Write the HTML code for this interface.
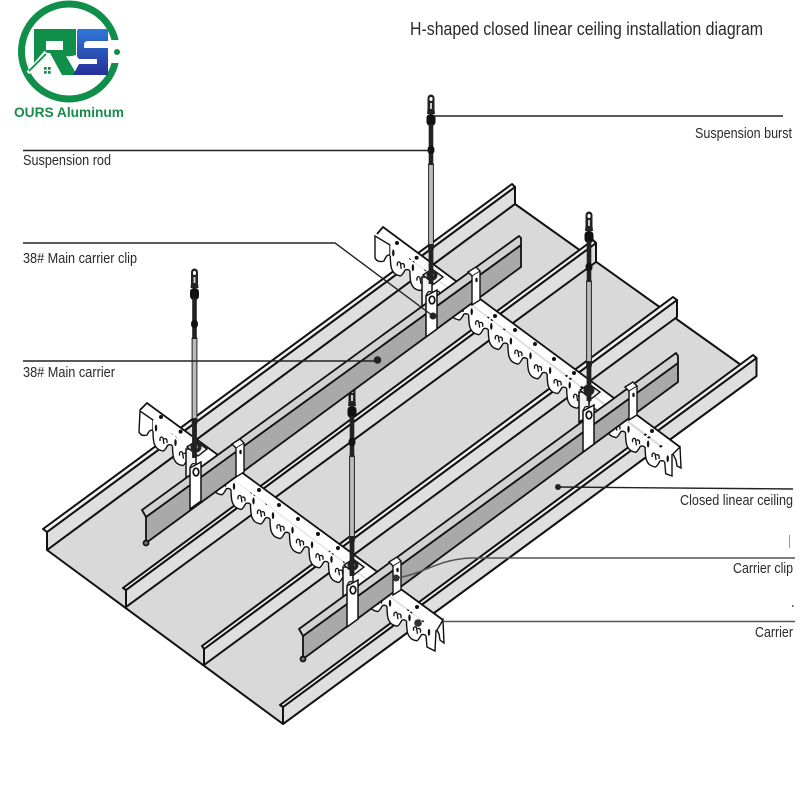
<!DOCTYPE html>
<html><head><meta charset="utf-8"><title>H-shaped closed linear ceiling installation diagram</title>
<style>html,body{margin:0;padding:0;background:#fff}svg{display:block}text{font-family:"Liberation Sans",sans-serif;fill:#2a2a2a}</style></head>
<body>
<svg width="800" height="800" viewBox="0 0 800 800" xmlns="http://www.w3.org/2000/svg">
<defs>
<linearGradient id="bl" x1="0" y1="0" x2="0" y2="1"><stop offset="0" stop-color="#2f78d6"/><stop offset="1" stop-color="#27309a"/></linearGradient>
<g id="hook">
  <path d="M-3,-8V3C-3,10-2,15-2,15C0,21 3,22 7,23C9,23 11,18 12,17C14,16 15,17 16.6,17.7V6.7Z" fill="#fff"/>
  <path d="M-3,3C-3,10-2,15-2,15C0,21 3,22 7,23C9,23 11,18 12,17C14,16 15,17 16.6,17.7" fill="none" stroke="#111" stroke-width="1.4"/>
  <path d="M4,10q2,-2 3,0l1,6m0,-5q2,-1 3,1l0,3M4,10l0,3" fill="none" stroke="#111" stroke-width="1.3"/>
  <ellipse cx="0" cy="0" rx="1.200" ry="3.500" fill="#111"/>
</g>
<circle id="d" r="2" fill="#111"/>
<g id="rod">
  <rect x="-2.4" y="70" width="4.8" height="85" fill="#bbb" stroke="#222" stroke-width="1"/>
  <path d="M-3.500,4a3.500,3.500 0 0 1 7,0V15L4,20H-4L-3.500,15Z" fill="#222"/>
  <rect x="-1.500" y="3" width="3" height="4" rx="1.500" fill="#fff"/>
  <rect x="-1" y="9" width="2" height="6" fill="#ccc"/>
  <rect x="-4.500" y="20" width="9" height="12" rx="4" fill="#111"/>
  <rect x="-2.300" y="30" width="4.6" height="41" fill="#222"/>
  <rect x="-3.400" y="52" width="6.8" height="8" rx="3" fill="#111"/>
  <path d="M-2.400,150H2.400V190H-2.400Z" fill="#222"/>
</g>
<g id="base">
  <path d="M-9,2V32L1,26V2Z" fill="#f1f1f1" stroke="#111" stroke-width="1.500"/>
  <path d="M-8,0L1,-6L12,2L3,9Z" fill="#eee" stroke="#111" stroke-width="1.400"/>
  <circle cx="1" cy="0" r="5.500" fill="#222"/><circle cx="1" cy="0" r="2" fill="#999"/>
</g>
<g id="front">
  <path d="M-5,21L6,15V54L-5,62Z" fill="#fff" stroke="#111" stroke-width="1.500"/>
  <path d="M-5,21Q-3,15 0,17" fill="none" stroke="#111" stroke-width="1.200"/>
  <ellipse cx="1" cy="25" rx="2.800" ry="3.800" fill="#fff" stroke="#111" stroke-width="1.700"/>
  <path d="M37,-3L45,-8L49,-4V25L41,30V1Z" fill="#fff" stroke="#111" stroke-width="1.400"/>
  <path d="M41,1L49,-4" stroke="#111" stroke-width="1" fill="none"/>
  <path d="M37,-3L41,1" stroke="#111" stroke-width="1" fill="none"/>
  <ellipse cx="45.500" cy="5" rx="1.200" ry="2.200" fill="#111"/>
</g>
</defs>

<rect width="800" height="800" fill="#fff"/>

<!-- logo -->
<circle cx="69" cy="51.500" r="47.500" fill="none" stroke="#0f8f4a" stroke-width="7"/>
<rect x="108" y="40" width="16" height="23" fill="#fff"/>
<circle cx="117" cy="52" r="3" fill="#0f8f4a"/>
<path fill-rule="evenodd" fill="#0f8f4a" d="M34,29H76V55Q70,57 66,56L77,75H62L50,53H46L34,65ZM46,41V50H63V41Z"/>
<path fill="url(#bl)" d="M78,29H108V41H88Q84,41 84,45V48H108V75H73L79,64H97V59H80Q78,59 77,56V31Z"/>
<path d="M28,73L46,52" fill="none" stroke="#fff" stroke-width="4"/>
<path d="M29,71L46,54" fill="none" stroke="#0f8f4a" stroke-width="1.800"/>
<path d="M44,67h2.700v2.700h-2.700zM48,67h2.700v2.700h-2.700zM44,71h2.700v2.700h-2.700zM48,71h2.700v2.700h-2.700z" fill="#0f8f4a"/>
<text x="14" y="117" font-size="14" font-weight="bold" textLength="110" lengthAdjust="spacingAndGlyphs" style="fill:#1a8a4a">OURS Aluminum</text>

<!-- title and labels -->
<text x="410" y="35" font-size="18.500" textLength="353" lengthAdjust="spacingAndGlyphs">H-shaped closed linear ceiling installation diagram</text>
<text x="695" y="138" font-size="15" textLength="97" lengthAdjust="spacingAndGlyphs">Suspension burst</text>
<text x="23" y="165" font-size="15" textLength="88" lengthAdjust="spacingAndGlyphs">Suspension rod</text>
<text x="23" y="263" font-size="15" textLength="114" lengthAdjust="spacingAndGlyphs">38# Main carrier clip</text>
<text x="23" y="377" font-size="15" textLength="92" lengthAdjust="spacingAndGlyphs">38# Main carrier</text>
<text x="680" y="505" font-size="15" textLength="113" lengthAdjust="spacingAndGlyphs">Closed linear ceiling</text>
<text x="733" y="573" font-size="15" textLength="60" lengthAdjust="spacingAndGlyphs">Carrier clip</text>
<text x="755" y="637" font-size="15" textLength="38" lengthAdjust="spacingAndGlyphs">Carrier</text>
<path d="M789.500,535V548" stroke="#999" stroke-width="1"/><rect x="792" y="605" width="1.500" height="2" fill="#666"/>

<!-- ceiling panel -->
<path d="M47,550L283,724L756.500,376L515,204Z" fill="#d9d9d9" stroke="#111" stroke-width="2" stroke-linejoin="round"/>

<!-- ridges -->
<g stroke="#111" stroke-width="2" stroke-linejoin="round">
<path d="M47,532V550L515,204V187Z" fill="#dfdfdf"/><path d="M43,529L47,532L515,187L512,184Z" fill="#f2f2f2"/>
<path d="M126,590V607L596,262V243Z" fill="#dfdfdf"/><path d="M123,588L126,590L596,243L593,240Z" fill="#f2f2f2"/>
<path d="M204,649V665L677,317V300Z" fill="#dfdfdf"/><path d="M202,646L204,649L677,300L673,297Z" fill="#f2f2f2"/>
<path d="M283,707V724L756.500,376V358Z" fill="#dfdfdf"/><path d="M280,705L283,707L756.500,358L753,355Z" fill="#f2f2f2"/>
</g>

<!-- cross channel 1 -->
<g>
<path d="M377,234L383,227L680,447L672,453Z" fill="#fff"/>
<path d="M375,236V258C377,262 381,262 384,261C386,256 388,254 390,255.600V245Z" fill="#fff" stroke="#111" stroke-width="1.400"/>
<use href="#hook" x="393.300" y="252.900"/><use href="#hook" x="412.900" y="267.600"/><use href="#hook" x="432.500" y="282.300"/><use href="#hook" x="452.100" y="297"/><use href="#hook" x="471.700" y="311.700"/><use href="#hook" x="491.300" y="326.400"/><use href="#hook" x="510.900" y="341.100"/><use href="#hook" x="530.500" y="355.800"/><use href="#hook" x="550.100" y="370.500"/><use href="#hook" x="569.700" y="385.200"/><use href="#hook" x="589.300" y="399.900"/><use href="#hook" x="608.900" y="414.600"/><use href="#hook" x="628.500" y="429.300"/><use href="#hook" x="648.100" y="444"/>
<path d="M664.700,461.700L665.700,473.700L672,476V454L664,450Z" fill="#fff"/>
<path d="M664.700,461.700L665.700,473.700L672,476V454" fill="none" stroke="#111" stroke-width="1.400"/>
<path d="M673,454L680,447L681,468L677,466L676,460Z" fill="#fff" stroke="#111" stroke-width="1.400"/>
<path d="M377,234L383,227L680,447" fill="none" stroke="#111" stroke-width="1.800"/>
<ellipse cx="667.700" cy="458.700" rx="1.200" ry="3.500" fill="#111"/>
<use href="#d" x="397" y="243"/><use href="#d" x="416.600" y="257.700"/><use href="#d" x="495" y="316"/><use href="#d" x="515" y="330"/><use href="#d" x="535" y="344"/><use href="#d" x="554" y="359"/><use href="#d" x="574" y="373"/><use href="#d" x="652" y="431"/>
</g>

<!-- cross channel 2 -->
<g>
<path d="M140,410L147,403L443,620L436,630Z" fill="#fff"/>
<path d="M140,411L139,432C141,436 144,436 147,435C149,431 151,429 153,430.700V420Z" fill="#fff" stroke="#111" stroke-width="1.400"/>
<use href="#hook" x="156" y="428"/><use href="#hook" x="175.500" y="442.600"/><use href="#hook" x="195" y="457.200"/><use href="#hook" x="214.500" y="471.800"/><use href="#hook" x="234" y="486.400"/><use href="#hook" x="253.500" y="501"/><use href="#hook" x="273" y="515.600"/><use href="#hook" x="292.500" y="530.200"/><use href="#hook" x="312" y="544.800"/><use href="#hook" x="331.500" y="559.400"/><use href="#hook" x="351" y="574"/><use href="#hook" x="370.500" y="588.600"/><use href="#hook" x="390" y="603.200"/><use href="#hook" x="409.500" y="617.800"/>
<path d="M426,635.400L427,647L435,651L436,630L428,624Z" fill="#fff"/>
<path d="M426,635.400L427,647L435,651L436,630" fill="none" stroke="#111" stroke-width="1.400"/>
<path d="M437,630L443,620L444,643L440,640L439,634Z" fill="#fff" stroke="#111" stroke-width="1.400"/>
<path d="M140,410L147,403L443,620" fill="none" stroke="#111" stroke-width="1.800"/>
<ellipse cx="429" cy="632.400" rx="1.200" ry="3.500" fill="#111"/>
<use href="#d" x="161" y="417"/><use href="#d" x="180.600" y="431.600"/><use href="#d" x="259" y="490"/><use href="#d" x="279" y="505"/><use href="#d" x="298" y="519"/><use href="#d" x="318" y="534"/><use href="#d" x="338" y="548"/><use href="#d" x="417" y="607"/>
</g>

<!-- rods and back plates -->
<use href="#base" x="431" y="275"/><use href="#base" x="588" y="390"/><use href="#base" x="195" y="447"/><use href="#base" x="352" y="565"/>
<use href="#rod" x="431" y="94"/><use href="#rod" x="589" y="211"/><use href="#rod" x="194.500" y="268"/><use href="#rod" x="352" y="386"/>

<!-- main carriers -->
<g stroke="#111" stroke-width="1.800" stroke-linejoin="round">
<path d="M146,517V543L521,267V245Z" fill="#a9a9a9"/>
<path d="M142,510L146,517L521,245V238L519,236Z" fill="#d2d2d2"/>
<circle cx="146" cy="543" r="2.500" fill="#777"/>
<path d="M303,636V659L678,382V363Z" fill="#a9a9a9"/>
<path d="M299,629L303,636L678,363V356L676,353Z" fill="#d2d2d2"/>
<circle cx="303" cy="659" r="2.500" fill="#777"/>
</g>

<!-- front plates / clips -->
<use href="#front" x="431" y="275"/><use href="#front" x="588" y="390"/><use href="#front" x="195" y="447"/><use href="#front" x="352" y="565"/>
<circle cx="433" cy="316" r="3.500" fill="#222"/>

<!-- leaders -->
<g fill="none" stroke="#222" stroke-width="1.400">
<path d="M435,116H783"/>
<path d="M23,150.500H430"/>
<path d="M23,243H335L433,316"/>
<path d="M23,361H377"/>
<path d="M558,487L793,489"/>
</g>
<g fill="none" stroke="#555" stroke-width="1.600">
<path d="M396,578C425,574 435,560 470,558H795"/>
<path d="M443,621.500H795"/>
</g>
<circle cx="377.500" cy="360" r="3.800" fill="#222"/>
<circle cx="558" cy="487" r="3" fill="#222"/>
<circle cx="396" cy="578" r="3.500" fill="#333"/>
<circle cx="418" cy="623" r="3.800" fill="#333"/>
</svg>
</body></html>
